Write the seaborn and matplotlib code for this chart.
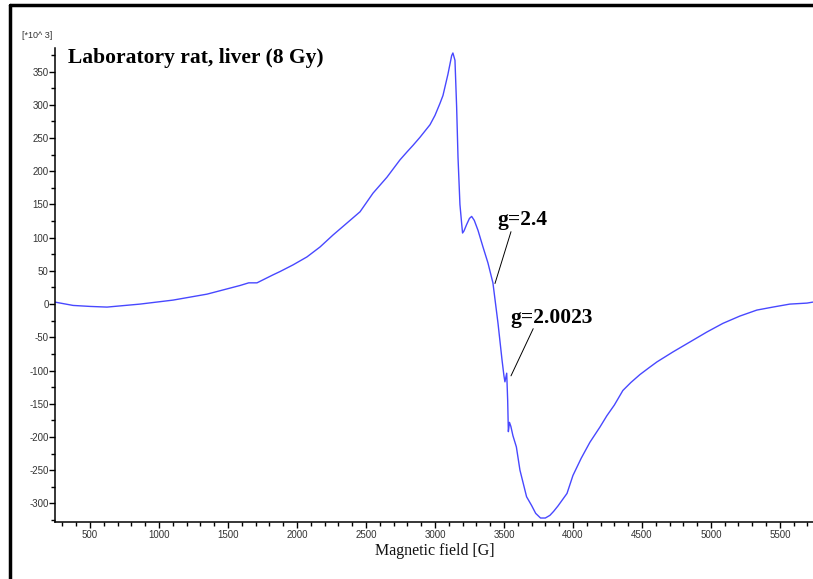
import numpy as np
import pandas as pd
import matplotlib
matplotlib.use('Agg')
import matplotlib.pyplot as plt
from matplotlib.ticker import MultipleLocator
from matplotlib.lines import Line2D
import seaborn as sns

# EPR spectrum (field in G, signal in 10^3 units)
field = [246, 377, 500, 623, 862, 1101, 1348, 1587, 1650, 1710, 1826, 1877,
         1971, 2072, 2167, 2261, 2362, 2457, 2551, 2652, 2746, 2797, 2841,
         2891, 2964, 3000, 3036, 3058, 3094, 3121, 3130, 3145, 3157, 3167,
         3181, 3194, 3200, 3210, 3230, 3250, 3266, 3285, 3312, 3348, 3384,
         3420, 3457, 3486, 3500, 3507, 3520, 3527, 3532, 3540, 3550, 3565,
         3590, 3616, 3640, 3664, 3700, 3730, 3765, 3800, 3833, 3860, 3891,
         3957, 4000, 4060, 4123, 4196, 4246, 4300, 4362, 4420, 4486, 4550,
         4609, 4725, 4848, 4971, 5087, 5210, 5333, 5449, 5572, 5696, 5739]
signal = [3, -2, -3.5, -4.5, 0, 6, 15, 28, 32, 32, 44, 49,
          59, 71, 86, 104, 122, 139, 167, 191, 217, 229, 239,
          251, 270, 284, 302, 314, 346, 374, 378, 367, 297, 221,
          150, 120, 107, 110, 120, 129, 132, 126, 111, 86, 62,
          32, -29, -84, -108, -117, -104, -145, -192, -178, -184, -198,
          -215, -250, -270, -290, -303, -315, -322, -322, -318, -312, -304,
          -285, -258, -232, -208, -185, -168, -152, -130, -118, -106, -96,
          -87, -72, -57, -42, -29, -18, -9, -4.5, 0, 1.5, 3]

title = "Laboratory rat, liver (8 Gy)"
labels = ["g=2.4", "g=2.0023"]
label_pos = [(3449, 119), (3543, -29)]
pointer_from = [(3551, 109), (3712, -37)]
pointer_to = [(3435, 31), (3551, -108)]

df = pd.DataFrame({'field': field, 'signal': signal})

sns.set_style('white')
plt.rcParams['font.family'] = ['Liberation Sans', 'DejaVu Sans']
plt.rcParams['axes.unicode_minus'] = False

fig = plt.figure(figsize=(8.13, 5.79), dpi=100)
ax = fig.add_axes([55 / 813, 1 - 522 / 579, 1 - 55 / 813, (522 - 48) / 579])

sns.lineplot(data=df, x='field', y='signal', ax=ax, color='#4848ff', lw=1.0)

ax.set_xlim(246, 5740)
ax.set_ylim(-328, 385.5)
ax.xaxis.set_major_locator(MultipleLocator(500))
ax.xaxis.set_minor_locator(MultipleLocator(100))
ax.yaxis.set_major_locator(MultipleLocator(50))
ax.yaxis.set_minor_locator(MultipleLocator(25))
ax.set_xticks([t for t in range(500, 5501, 500)])
ax.tick_params(which='both', direction='out', color='black', width=1.0,
               labelsize=7, labelcolor='#333333', bottom=True, left=True)
ax.tick_params(which='major', length=4)
ax.tick_params(axis='y', which='major', pad=0.5)
ax.tick_params(axis='x', which='major', pad=2)
ax.tick_params(which='minor', length=3)
ax.set_xlabel('')
ax.set_ylabel('')
for side in ['top', 'right']:
    ax.spines[side].set_visible(False)
for side in ['left', 'bottom']:
    ax.spines[side].set_color('black')
    ax.spines[side].set_linewidth(1.1)

serif = ['Liberation Serif', 'DejaVu Serif']
ax.text(341, 363, title, family=serif, fontweight='bold', fontsize=15.5,
        color='black', va='baseline', ha='left')
for lab, pos, p0, p1 in zip(labels, label_pos, pointer_from, pointer_to):
    ax.text(pos[0], pos[1], lab, family=serif, fontweight='bold',
            fontsize=15.5, color='black', va='baseline', ha='left')
    ax.plot([p0[0], p1[0]], [p0[1], p1[1]], color='black', lw=0.7)

fig.text(435 / 813, 1 - 551 / 579, 'Magnetic field [G]', family=serif,
         fontsize=11.5, ha='center', va='center', color='#111111')
fig.text(22 / 813, 1 - 36 / 579, '[*10^ 3]', fontsize=6.5, ha='left',
         va='center', color='#333333')

# thick frame on top and left edge of the screenshot
fig.add_artist(Line2D([10 / 813, 1], [1 - 5 / 579, 1 - 5 / 579],
                      transform=fig.transFigure, color='black', lw=2.5))
fig.add_artist(Line2D([10 / 813, 10 / 813], [1 - 5 / 579, 0],
                      transform=fig.transFigure, color='black', lw=2.5))

fig.savefig('out.png', dpi=100)
